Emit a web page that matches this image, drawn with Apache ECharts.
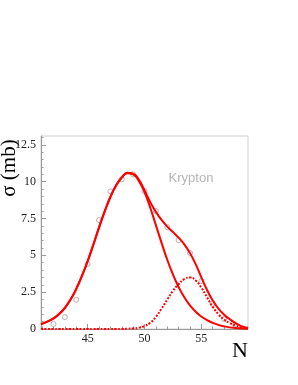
<!DOCTYPE html>
<html><head><meta charset="utf-8">
<script src="https://cdn.jsdelivr.net/npm/echarts@6/dist/echarts.min.js"></script>
<style>html,body{margin:0;padding:0;background:#fff}#c{width:298px;height:385px}</style>
</head><body><div id="c"></div>
<script>
// Curve sample positions (N) and component values (sigma, mb)
const curveN = [40.9,41.5,42,42.5,43,43.5,44,44.5,45,45.5,46,46.5,47,47.5,48,48.5,49,49.5,50,50.5,51,51.5,52,52.5,53,53.5,54,54.5,55,55.5,56,56.5,57,57.5,58,58.5,59,59.1];
const component1 = [0.33,0.52,0.72,1.02,1.44,2.0,2.72,3.6,4.6,5.72,6.88,7.98,8.96,9.74,10.28,10.58,10.5,10.05,9.3,8.25,7.05,5.85,4.7,3.7,2.85,2.15,1.6,1.17,0.85,0.6,0.42,0.28,0.18,0.11,0.07,0.04,0.02,0.02];
const component2 = [0,0,0,0,0,0,0,0,0,0,0,0,0,0,0,0.02,0.04,0.09,0.2,0.42,0.82,1.38,2.0,2.58,3.05,3.38,3.5,3.3,2.8,2.15,1.5,1.0,0.64,0.4,0.24,0.13,0.06,0.05];
const totalFit = [0.33,0.52,0.72,1.02,1.44,2.0,2.72,3.6,4.6,5.72,6.88,7.98,8.96,9.74,10.28,10.6,10.54,10.14,9.42,8.62,7.95,7.4,6.95,6.58,6.2,5.75,5.15,4.4,3.5,2.65,1.93,1.38,0.97,0.66,0.4,0.2,0.08,0.06];
// Measured points
const pointN = [42,43,44,45,46,47,48,49,50,51,52,53,54,55,56,57,58];
const pointSigma = [0.34,0.81,1.98,4.41,7.39,9.34,10.16,10.5,9.36,8.01,6.91,6.03,5.16,3.26,1.71,0.68,0.27];
// Ticks
const xMajorTicks = [45,50,55];
const xMinorTicks = [41,42,43,44,46,47,48,49,51,52,53,54,56,57,58,59];
const yMajorTicks = [0,2.5,5,7.5,10,12.5];
const yMinorTicks = [0.5,1,1.5,2,3,3.5,4,4.5,5.5,6,6.5,7,8,8.5,9,9.5,10.5,11,11.5,12,13];

const pair = (xs, ys) => xs.map((x, i) => [x, ys[i]]);
const axisGray = '#9a9a9a';
const labelFont = {fontFamily: 'Liberation Serif', fontSize: 12, color: '#222'};

const chart = echarts.init(document.getElementById('c'), null, {renderer: 'canvas'});
chart.setOption({
  animation: false,
  backgroundColor: '#fff',
  grid: {left: 41, top: 136, width: 207, height: 193, show: true, borderColor: '#cfcfcf', borderWidth: 1, containLabel: false},
  xAxis: [
    {type: 'value', min: 40.9, max: 59.1, position: 'bottom',
     axisLine: {lineStyle: {color: axisGray, width: 1}},
     axisTick: {customValues: xMajorTicks, inside: true, length: 5, lineStyle: {color: axisGray}},
     axisLabel: Object.assign({customValues: xMajorTicks, margin: 4}, labelFont),
     splitLine: {show: false}},
    {type: 'value', min: 40.9, max: 59.1, position: 'bottom', offset: 0,
     axisLine: {show: false},
     axisTick: {customValues: xMinorTicks, inside: true, length: 2.5, lineStyle: {color: axisGray}},
     axisLabel: {show: false}, splitLine: {show: false}}
  ],
  yAxis: [
    {type: 'value', min: 0, max: 13.1, position: 'left',
     axisLine: {show: true, lineStyle: {color: axisGray, width: 1}},
     axisTick: {show: true, customValues: yMajorTicks, inside: true, length: 5, lineStyle: {color: axisGray}},
     axisLabel: Object.assign({customValues: yMajorTicks, margin: 5}, labelFont),
     splitLine: {show: false}},
    {type: 'value', min: 0, max: 13.1, position: 'left', offset: 0,
     axisLine: {show: false},
     axisTick: {show: true, customValues: yMinorTicks, inside: true, length: 2.5, lineStyle: {color: axisGray}},
     axisLabel: {show: false}, splitLine: {show: false}}
  ],
  graphic: [
    {type: 'text', x: 9, y: 168, rotation: Math.PI / 2,
     style: {text: 'σ (mb)', font: '21px "Liberation Serif"', fill: '#000', align: 'center', verticalAlign: 'middle'}},
    {type: 'text', x: 248, y: 351,
     style: {text: 'N', font: '22px "Liberation Serif"', fill: '#000', align: 'right', verticalAlign: 'middle'}},
    {type: 'text', x: 191, y: 178,
     style: {text: 'Krypton', font: '13px "Liberation Sans"', fill: '#b4b4b4', align: 'center', verticalAlign: 'middle'}}
  ],
  series: [
    {type: 'scatter', xAxisIndex: 0, yAxisIndex: 0, data: pair(pointN, pointSigma),
     symbol: 'circle', symbolSize: 5, z: 1,
     itemStyle: {color: 'rgba(0,0,0,0)', borderColor: '#a0a0a0', borderWidth: 1}},
    {type: 'line', xAxisIndex: 0, yAxisIndex: 0, data: pair(curveN, component2), smooth: 0.5,
     showSymbol: false, clip: true, z: 2,
     lineStyle: {color: '#ff0000', width: 2, type: [2, 1.5]}},
    {type: 'line', xAxisIndex: 0, yAxisIndex: 0, data: pair(curveN, component1), smooth: 0.5,
     showSymbol: false, clip: true, z: 3,
     lineStyle: {color: '#ff0000', width: 2}},
    {type: 'line', xAxisIndex: 0, yAxisIndex: 0, data: pair(curveN, totalFit), smooth: 0.5,
     showSymbol: false, clip: true, z: 3,
     lineStyle: {color: '#ff0000', width: 2}}
  ]
});
</script>
</body></html>
